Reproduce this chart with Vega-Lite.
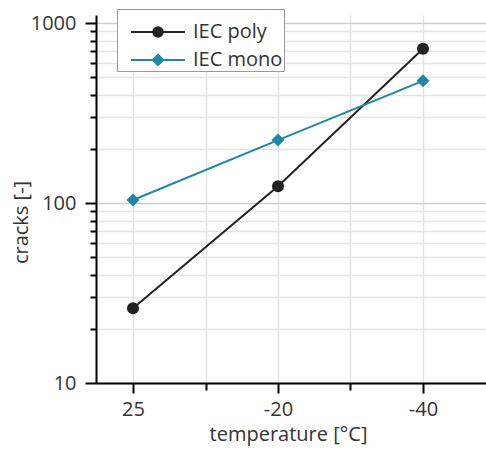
{
  "$schema": "https://vega.github.io/schema/vega-lite/v6.json",
  "width": 390,
  "height": 368,
  "autosize": "none",
  "padding": {"left": 96, "top": 15, "right": 0, "bottom": 73},
  "background": "white",
  "config": {
    "view": {"stroke": null},
    "font": "Open Sans",
    "axis": {
      "labelFont": "Open Sans", "titleFont": "Open Sans",
      "labelFontSize": 20, "titleFontSize": 20,
      "labelColor": "#333", "titleColor": "#333",
      "titleFontWeight": "normal",
      "domainColor": "#000", "domainWidth": 2,
      "tickColor": "#000", "tickWidth": 2
    }
  },
  "data": {
    "values": [
      {"temperature": "25", "series": "IEC poly", "cracks": 26},
      {"temperature": "-20", "series": "IEC poly", "cracks": 124},
      {"temperature": "-40", "series": "IEC poly", "cracks": 720},
      {"temperature": "25", "series": "IEC mono", "cracks": 104},
      {"temperature": "-20", "series": "IEC mono", "cracks": 224},
      {"temperature": "-40", "series": "IEC mono", "cracks": 478}
    ]
  },
  "encoding": {
    "x": {
      "field": "temperature", "type": "ordinal", "sort": null,
      "scale": {"type": "point", "domain": ["25", "m1", "-20", "m2", "-40"], "padding": 0.6897, "align": 0.37},
      "axis": {
        "title": "temperature [°C]",
        "labelAngle": 0,
        "labelExpr": "indexof(['m1','m2'], datum.value) >= 0 ? '' : datum.label",
        "tickSize": {"condition": {"test": "indexof(['m1','m2'], datum.value) >= 0", "value": 7}, "value": 10},
        "labelPadding": 6,
        "grid": true, "gridColor": "#e2e2e2", "gridWidth": 1.5,
        "titleY": 51, "titleX": 192, "titleBaseline": "middle"
      }
    },
    "y": {
      "field": "cracks", "type": "quantitative",
      "scale": {"type": "log", "domain": [10, 1110], "nice": false, "zero": false},
      "axis": {
        "title": "cracks [-]",
        "values": [10, 20, 30, 40, 50, 60, 70, 80, 90, 100, 200, 300, 400, 500, 600, 700, 800, 900, 1000],
        "labelExpr": "indexof([10,100,1000], datum.value) >= 0 ? format(datum.value, 'd') : ''",
        "tickSize": {"condition": {"test": "indexof([10,100,1000], datum.value) >= 0", "value": 11}, "value": 6},
        "labelPadding": 9,
        "grid": true,
        "gridColor": {"condition": {"test": "indexof([10,100,1000], datum.value) >= 0", "value": "#cfcfcf"}, "value": "#e4e4e4"},
        "gridWidth": 1.5,
        "titleX": -75, "titleY": 207, "titleBaseline": "middle", "titleAngle": -90
      }
    },
    "color": {
      "field": "series", "type": "nominal",
      "scale": {"domain": ["IEC poly", "IEC mono"], "range": ["#222222", "#2186a5"]},
      "legend": {
        "title": " ",
        "titleFontSize": 8, "titlePadding": 3,
        "orient": "none", "legendX": 21, "legendY": -6,
        "fillColor": "white", "strokeColor": "#999",
        "padding": 1,
        "labelFont": "Open Sans", "labelFontSize": 20, "labelColor": "#333",
        "symbolSize": 400, "symbolOffset": 29, "labelOffset": 24, "rowPadding": 7,
        "symbolStrokeWidth": 2, "symbolOpacity": 1,
        "symbolType": {"expr": "datum.value === 'IEC poly' ? 'M-2.7,0H2.7M0.48,0A0.48,0.48,0,1,1,-0.48,0A0.48,0.48,0,1,1,0.48,0Z' : 'M-2.7,0H2.7M0,-0.52L0.52,0L0,0.52L-0.52,0Z'"},
        "symbolFillColor": {"expr": "datum.value === 'IEC poly' ? '#222222' : '#2186a5'"},
        "symbolStrokeColor": {"expr": "datum.value === 'IEC poly' ? '#222222' : '#2186a5'"}
      }
    }
  },
  "layer": [
    {"mark": {"type": "line", "strokeWidth": 2}},
    {
      "transform": [{"filter": "datum.series === 'IEC poly'"}],
      "mark": {"type": "point", "filled": true, "opacity": 1, "shape": "circle", "size": 144}
    },
    {
      "transform": [{"filter": "datum.series === 'IEC mono'"}],
      "mark": {"type": "point", "filled": true, "opacity": 1, "shape": "diamond", "size": 169}
    }
  ]
}
